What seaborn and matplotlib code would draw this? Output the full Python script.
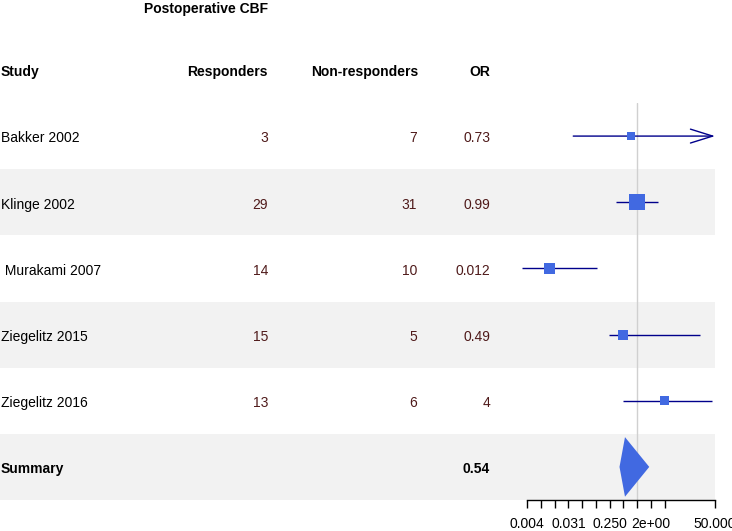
import numpy as np
import pandas as pd
import matplotlib
matplotlib.use("Agg")
import matplotlib.pyplot as plt
from matplotlib.ticker import FixedLocator, FixedFormatter, NullLocator
import seaborn as sns

# ---------------- data ----------------
studies = ["Bakker 2002", "Klinge 2002", " Murakami 2007", "Ziegelitz 2015", "Ziegelitz 2016"]
responders = ["3", "29", "14", "15", "13"]
non_responders = ["7", "31", "10", "5", "6"]
or_labels = ["0.73", "0.99", "0.012", "0.49", "4"]
or_values = [0.73, 0.99, 0.012, 0.49, 4.0]
ci_lower = [0.040, 0.34, 0.0030, 0.24, 0.49]
ci_upper = [120.0, 2.85, 0.132, 23.6, 43.0]
weights = [10.2, 41.2, 19.5, 16.1, 13.0]
summary_label = "Summary"
summary_or_label = "0.54"
summary_or = 0.54
summary_lower = 0.41
summary_upper = 1.83
tick_values = [2.0 ** k for k in range(-8, 3)] + [50.0]
tick_labels = ["0.004", "", "", "0.031", "", "", "0.250", "", "", "2e+00", "", "50.000"]
header_title = "Postoperative CBF"
col_headers = ["Study", "Responders", "Non-responders", "OR"]

# ---------------- style ----------------
sns.set_theme(style="white")
plt.rcParams["font.family"] = ["Liberation Sans", "DejaVu Sans"]
plt.rcParams["font.size"] = 10
plt.rcParams["text.color"] = "black"
plt.rcParams["xtick.color"] = "black"
plt.rcParams["xtick.labelcolor"] = "black"

W, H = 732, 531
fig = plt.figure(figsize=(W / 100, H / 100), dpi=100)

top_px, bot_px = 103, 500
n_rows = len(studies) + 1
ax_b = fig.add_axes([0, 1 - bot_px / H, 1, (bot_px - top_px) / H])
ax_b.set_xlim(0, W)
ax_b.set_ylim(n_rows - 0.5, -0.5)
ax_b.axis("off")

# zebra bands
for i in range(n_rows):
    if i % 2 == 1:
        ax_b.axhspan(i - 0.5, i + 0.5, xmin=0, xmax=715 / W, color="#f2f2f2", lw=0, zorder=0)

val_color = "#4f1a1a"
x_study, x_resp, x_non, x_or = 1, 268, 417, 490
dy = 0.035

# headers
ax_b.text(206, -1.92, header_title, ha="center", va="center", fontweight="bold", color="black", clip_on=False)
ax_b.text(x_study, -1.0 + dy, col_headers[0], ha="left", va="center", fontweight="bold", color="black", clip_on=False)
ax_b.text(x_resp, -1.0 + dy, col_headers[1], ha="right", va="center", fontweight="bold", color="black", clip_on=False)
ax_b.text(418, -1.0 + dy, col_headers[2], ha="right", va="center", fontweight="bold", color="black", clip_on=False)
ax_b.text(x_or, -1.0 + dy, col_headers[3], ha="right", va="center", fontweight="bold", color="black", clip_on=False)

for i, (s, r, nr, o) in enumerate(zip(studies, responders, non_responders, or_labels)):
    ax_b.text(x_study, i + dy, s, ha="left", va="center", color="black")
    ax_b.text(x_resp, i + dy, r, ha="right", va="center", color=val_color)
    ax_b.text(x_non, i + dy, nr, ha="right", va="center", color=val_color)
    ax_b.text(x_or, i + dy, o, ha="right", va="center", color=val_color)

si = len(studies)
ax_b.text(x_study, si + dy, summary_label, ha="left", va="center", fontweight="bold", color="black")
ax_b.text(x_or, si + dy, summary_or_label, ha="right", va="center", fontweight="bold", color="black")

# ---------------- forest axes ----------------
px_per_oct = (715 - 527) / (np.log2(50) + 8)
left_px = 527 - 0.5 * px_per_oct
right_px = 715
ax_f = fig.add_axes([left_px / W, 1 - bot_px / H, (right_px - left_px) / W, (bot_px - top_px) / H])
ax_f.patch.set_alpha(0)
ax_f.set_xscale("log", base=2)
ax_f.set_xlim(2.0 ** -8.5, 50)
ax_f.set_ylim(n_rows - 0.5, -0.5)

ax_f.axvline(1, color="#d0d0d0", lw=1, zorder=1)

rows = np.arange(len(studies))
df = pd.DataFrame({"OR": or_values, "row": rows, "lo": ci_lower, "hi": ci_upper, "w": weights})

xmax = 50
clipped_hi = np.minimum(df["hi"].values, xmax)
for r, lo, hi, full_hi in zip(df["row"], df["lo"], clipped_hi, df["hi"]):
    if full_hi > xmax:
        ax_f.annotate("", xy=(xmax, r), xytext=(lo, r),
                      arrowprops=dict(arrowstyle="->,head_length=0.8,head_width=0.25",
                                      color="darkblue", lw=1, mutation_scale=20,
                                      shrinkA=0, shrinkB=0), zorder=2)
    else:
        ax_f.hlines(r, lo, hi, color="darkblue", lw=1, zorder=2)

sns.scatterplot(data=df, x="OR", y="row", size="w", sizes=(0, 133), size_norm=(0, max(weights)),
                marker="s", color="royalblue", edgecolor="none", linewidth=0,
                legend=False, ax=ax_f, zorder=3)

# summary diamond
h = 0.45
ax_f.fill([summary_lower, summary_or, summary_upper, summary_or],
          [si, si - h, si, si + h], color="royalblue", lw=0, zorder=3)

ax_f.set_ylim(n_rows - 0.5, -0.5)
ax_f.set_xlabel("")
ax_f.set_ylabel("")
ax_f.set_yticks([])
for sp in ["top", "left", "right"]:
    ax_f.spines[sp].set_visible(False)
ax_f.spines["bottom"].set_bounds(2.0 ** -8, 50)
ax_f.spines["bottom"].set_color("black")
ax_f.spines["bottom"].set_linewidth(1)
ax_f.xaxis.set_major_locator(FixedLocator(tick_values))
ax_f.xaxis.set_major_formatter(FixedFormatter(tick_labels))
ax_f.xaxis.set_minor_locator(NullLocator())
ax_f.tick_params(axis="x", which="major", direction="out", length=6, width=1,
                 color="black", labelcolor="black", labelsize=10, pad=6, bottom=True)

fig.savefig("out.png", dpi=100)
